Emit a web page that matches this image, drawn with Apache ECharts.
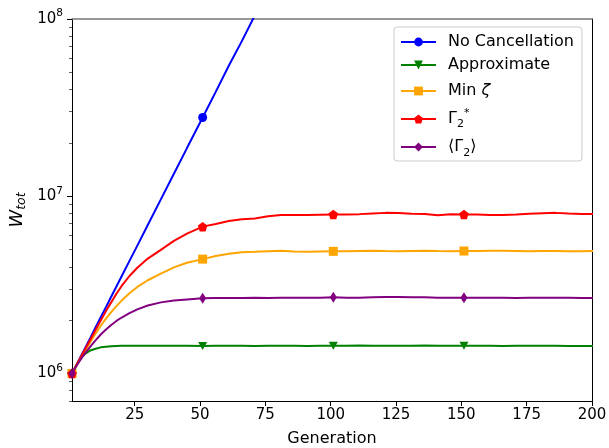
<!DOCTYPE html>
<html>
<head>
<meta charset="utf-8">
<script src="https://cdn.jsdelivr.net/npm/echarts@6/dist/echarts.min.js"></script>
<style>
html,body{margin:0;padding:0;background:#fff;}
#chart{width:609px;height:448px;}
</style>
</head>
<body>
<div id="chart"></div>
<script>
// ---- data ----
const generations = [1,2,3,4,5,6,8,10,12,14,16,18,20,23,26,30,35,40,45,
  51,56,61,66,71,76,81,86,91,96,101,106,111,116,121,126,131,136,141,146,
  151,156,161,166,171,176,181,186,191,196,201];
const markerGenerations = [1,51,101,151,201];
const xTickValues = [25,50,75,100,125,150,175,200];
const yMajorTicks = [1e6,1e7,1e8];
const yMinorTicks = [7e5,8e5,9e5,2e6,3e6,4e6,5e6,6e6,7e6,8e6,9e6,2e7,3e7,4e7,5e7,6e7,7e7,8e7,9e7];
const seriesNames = ['No Cancellation','Approximate','Min ζ','Γ2*','⟨Γ2⟩'];

const noCancellation = [1.0e6,1.07e6,1.14e6,1.22e6,1.30e6,1.39e6,1.59e6,1.82e6,2.08e6,2.37e6,2.71e6,3.10e6,3.54e6,4.32e6,5.27e6,6.88e6,9.6e6,1.34e7,1.87e7,
  2.78e7,3.88e7,5.45e7,7.5e7,1.05e8,1.45e8];
const approximate = [1.0e6,1.06e6,1.14e6,1.20e6,1.25e6,1.29e6,1.35e6,1.38e6,1.405e6,1.415e6,1.425e6,1.43e6,1.435e6,1.435e6,1.435e6,1.435e6,1.435e6,1.435e6,1.435e6,
  1.43e6,1.435e6,1.435e6,1.435e6,1.43e6,1.435e6,1.435e6,1.435e6,1.43e6,1.435e6,1.435e6,1.435e6,1.44e6,1.435e6,1.435e6,1.435e6,1.435e6,1.44e6,1.435e6,1.435e6,
  1.435e6,1.435e6,1.435e6,1.43e6,1.435e6,1.435e6,1.435e6,1.435e6,1.43e6,1.43e6,1.43e6];
const minZeta = [1.0e6,1.065e6,1.13e6,1.20e6,1.27e6,1.34e6,1.50e6,1.68e6,1.86e6,2.04e6,2.22e6,2.40e6,2.58e6,2.84e6,3.08e6,3.36e6,3.66e6,3.97e6,4.22e6,
  4.42e6,4.60e6,4.74e6,4.83e6,4.86e6,4.90e6,4.93e6,4.88e6,4.86e6,4.88e6,4.89e6,4.90e6,4.92e6,4.93e6,4.91e6,4.90e6,4.92e6,4.93e6,4.91e6,4.90e6,
  4.91e6,4.92e6,4.93e6,4.93e6,4.92e6,4.90e6,4.91e6,4.92e6,4.90e6,4.90e6,4.92e6];
const gammaStar = [1.0e6,1.067e6,1.138e6,1.21e6,1.29e6,1.37e6,1.55e6,1.76e6,1.99e6,2.25e6,2.52e6,2.82e6,3.12e6,3.55e6,3.95e6,4.45e6,4.98e6,5.60e6,6.15e6,
  6.74e6,6.98e6,7.25e6,7.42e6,7.50e6,7.72e6,7.84e6,7.83e6,7.84e6,7.87e6,7.90e6,7.90e6,7.93e6,8.00e6,8.06e6,8.05e6,7.98e6,7.95e6,7.82e6,7.92e6,
  7.90e6,7.88e6,7.84e6,7.85e6,7.90e6,7.96e6,8.02e6,8.06e6,8.00e6,7.95e6,7.93e6];
const gammaMean = [1.0e6,1.06e6,1.12e6,1.18e6,1.24e6,1.30e6,1.42e6,1.54e6,1.66e6,1.77e6,1.88e6,1.98e6,2.07e6,2.19e6,2.30e6,2.42e6,2.52e6,2.58e6,2.62e6,
  2.66e6,2.67e6,2.67e6,2.67e6,2.68e6,2.67e6,2.68e6,2.68e6,2.68e6,2.68e6,2.69e6,2.68e6,2.68e6,2.69e6,2.70e6,2.70e6,2.69e6,2.69e6,2.68e6,2.68e6,
  2.68e6,2.68e6,2.68e6,2.68e6,2.67e6,2.68e6,2.68e6,2.68e6,2.68e6,2.67e6,2.67e6];

// ---- build ----
const FONT = 'DejaVu Sans';
function buildData(values) {
  return values.map(function (v, i) {
    const g = generations[i];
    const item = { value: [g, v] };
    if (markerGenerations.indexOf(g) < 0) item.symbol = 'none';
    return item;
  });
}
const seriesDefs = [
  { name: seriesNames[0], values: noCancellation, color: '#0000ff', symbol: 'circle', size: 9 },
  { name: seriesNames[1], values: approximate, color: '#008000', symbol: 'path://M-1,-1 L1,-1 L0,1 Z', size: [9, 8] },
  { name: seriesNames[2], values: minZeta, color: '#ffa500', symbol: 'rect', size: 9 },
  { name: seriesNames[3], values: gammaStar, color: '#ff0000', symbol: 'path://M0,-1 L0.951,-0.309 L0.588,0.809 L-0.588,0.809 L-0.951,-0.309 Z', size: 9.5 },
  { name: seriesNames[4], values: gammaMean, color: '#800080', symbol: 'path://M0,-1 L0.6,0 L0,1 L-0.6,0 Z', size: [7, 11] }
];
const series = seriesDefs.map(function (d, k) {
  return {
    name: d.name, type: 'line', xAxisIndex: 0, yAxisIndex: 0,
    data: buildData(d.values), symbol: d.symbol, symbolSize: d.size,
    showSymbol: true, showAllSymbol: true, clip: true, z: 2 + k,
    lineStyle: { color: d.color, width: 2 }, itemStyle: { color: d.color },
    emphasis: { disabled: true }
  };
});
const legendLabels = {
  'No Cancellation': 'No Cancellation',
  'Approximate': 'Approximate',
  'Min ζ': '{m|Min }{i|ζ}',
  'Γ2*': '{t4|Γ}{sub|2}{sup|*}',
  '⟨Γ2⟩': '{t5|⟨Γ}{sub|2}{t5|⟩}'
};
const LF = 16;

const chart = echarts.init(document.getElementById('chart'), null, { renderer: 'canvas' });
chart.setOption({
  animation: false,
  backgroundColor: '#ffffff',
  grid: { left: 72, right: 17, top: 19, bottom: 47, containLabel: false, outerBoundsMode: 'none' },
  legend: {
    orient: 'vertical', left: 394, top: 27,
    padding: [6, 8, 2, 6], itemGap: 5,
    itemWidth: 35, itemHeight: 11,
    borderColor: '#cccccc', borderWidth: 1, borderRadius: 3,
    backgroundColor: 'rgba(255,255,255,0.8)',
    data: seriesNames,
    formatter: function (n) { return legendLabels[n]; },
    textStyle: {
      fontFamily: FONT, fontSize: LF, color: '#000', lineHeight: 18, padding: [0, 0, 0, 7],
      rich: {
        m: { fontFamily: FONT, fontSize: LF, color: '#000', lineHeight: 24 },
        i: { fontFamily: FONT, fontSize: LF, fontStyle: 'italic', color: '#000', lineHeight: 24 },
        t4: { fontFamily: FONT, fontSize: LF, color: '#000', lineHeight: 22 },
        t5: { fontFamily: FONT, fontSize: LF, color: '#000', lineHeight: 24 },
        sub: { fontFamily: FONT, fontSize: 11, color: '#000', lineHeight: 11, verticalAlign: 'bottom' },
        sup: { fontFamily: FONT, fontSize: 11, color: '#000', lineHeight: 11, verticalAlign: 'top' }
      }
    }
  },
  xAxis: [{
    type: 'value', min: 1, max: 200, position: 'bottom',
    name: 'Generation', nameLocation: 'middle', nameGap: 30,
    nameTextStyle: { fontFamily: FONT, fontSize: 16, color: '#000' },
    axisLine: { show: true, onZero: false, lineStyle: { color: '#000', width: 1 } },
    axisTick: { show: true, inside: false, length: 5, customValues: xTickValues, lineStyle: { color: '#000', width: 1 } },
    axisLabel: { show: true, margin: 7, customValues: xTickValues, fontFamily: FONT, fontSize: 15, color: '#000' },
    splitLine: { show: false }
  }, {
    type: 'value', min: 1, max: 200, position: 'top',
    axisLine: { show: true, onZero: false, lineStyle: { color: '#777', width: 1.5 } },
    axisTick: { show: false }, axisLabel: { show: false }, splitLine: { show: false }
  }],
  yAxis: [{
    type: 'log', logBase: 10, min: 7e5, max: 1e8, position: 'left',
    name: '{w|W}{s|tot}', nameLocation: 'middle', nameGap: 44, nameRotate: 90,
    nameMoveOverlap: false,
    nameTextStyle: {
      rich: {
        w: { fontFamily: FONT, fontSize: 18, fontStyle: 'italic', color: '#000', lineHeight: 22 },
        s: { fontFamily: FONT, fontSize: 12.5, fontStyle: 'italic', color: '#000', lineHeight: 12, verticalAlign: 'bottom' }
      }
    },
    axisLine: { show: true, onZero: false, lineStyle: { color: '#000', width: 1 } },
    axisTick: { show: true, inside: false, length: 5, customValues: yMajorTicks, lineStyle: { color: '#000', width: 1 } },
    axisLabel: {
      show: true, margin: 9, customValues: yMajorTicks,
      formatter: function (v) { return '{b|10}{sup|' + Math.round(Math.log10(v)) + '}'; },
      rich: {
        b: { fontFamily: FONT, fontSize: 15, color: '#000', lineHeight: 22 },
        sup: { fontFamily: FONT, fontSize: 10.5, color: '#000', lineHeight: 12, verticalAlign: 'top' }
      }
    },
    splitLine: { show: false }
  }, {
    type: 'log', logBase: 10, min: 7e5, max: 1e8, position: 'left', offset: 0,
    axisLine: { show: false },
    axisTick: { show: true, inside: false, length: 3, customValues: yMinorTicks, lineStyle: { color: '#333', width: 0.8 } },
    axisLabel: { show: false }, splitLine: { show: false }
  }, {
    type: 'log', logBase: 10, min: 7e5, max: 1e8, position: 'right', offset: 0,
    axisLine: { show: true, onZero: false, lineStyle: { color: '#000', width: 1 } },
    axisTick: { show: false }, axisLabel: { show: false }, splitLine: { show: false }
  }],
  series: series
});
</script>
</body>
</html>
